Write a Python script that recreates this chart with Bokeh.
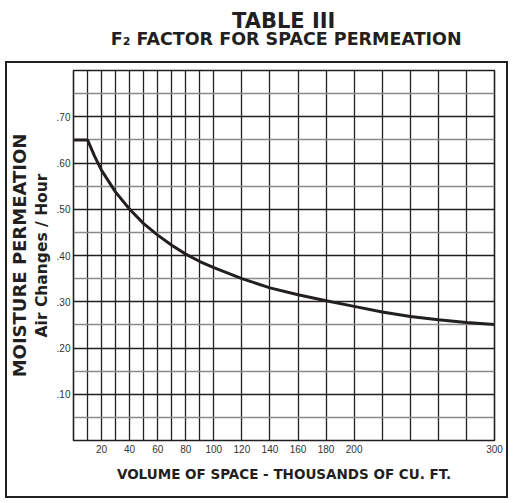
from bokeh.plotting import figure
from bokeh.models import Range1d, FixedTicker, Title
from bokeh.layouts import column
from bokeh.core.properties import value
from bokeh.embed import file_html
from bokeh.resources import INLINE

# ---- data ----
volume = [0, 10, 15, 20, 30, 40, 50, 60, 70, 80, 90, 100,
          120, 140, 160, 180, 200, 220, 240, 260, 280, 300]
factor = [0.650, 0.650, 0.615, 0.584, 0.537, 0.500, 0.469, 0.444, 0.422, 0.403, 0.387, 0.374,
          0.350, 0.330, 0.315, 0.302, 0.290, 0.278, 0.268, 0.261, 0.255, 0.251]

x_tick_values = [20, 40, 60, 80, 100, 120, 140, 160, 180, 200, 300]
x_tick_labels = ["20", "40", "60", "80", "100", "120", "140", "160", "180", "200", "300"]
x_grid_values = [10, 20, 30, 40, 50, 60, 70, 80, 90, 100,
                 120, 140, 160, 180, 200, 220, 240, 260, 280]

y_tick_values = [0.1, 0.2, 0.3, 0.4, 0.5, 0.6, 0.7]
y_tick_labels = [".10", ".20", ".30", ".40", ".50", ".60", ".70"]
y_minor_values = [0.05, 0.15, 0.25, 0.35, 0.45, 0.55, 0.65, 0.75]

title_main = "TABLE III"
title_sub = "F\u2082 FACTOR FOR SPACE PERMEATION"
y_title = "MOISTURE PERMEATION"
y_subtitle = "Air Changes / Hour"
x_title = "VOLUME OF SPACE - THOUSANDS OF CU. FT."

INK = "#231f20"
BOLD_FONT = "DejaVu Sans"

# ---- title strip (pixel coordinates, y downwards) ----
tfig = figure(width=514, height=61, x_range=Range1d(0, 514), y_range=Range1d(61, 0),
              x_axis_type=None, y_axis_type=None, min_border=0, title=None,
              output_backend="svg", toolbar_location=None)
tfig.align = "start"
tfig.outline_line_color = None
tfig.background_fill_color = "white"
tfig.border_fill_color = "white"
tfig.text(x=[256], y=[20], text=[title_main], text_align="center",
          text_baseline="alphabetic", text_font=value(BOLD_FONT),
          text_font_size=value("21px"), text_font_style="bold", text_color=INK)
tfig.text(x=[259], y=[38], text=[title_sub], text_align="center",
          text_baseline="alphabetic", text_font=value(BOLD_FONT),
          text_font_size=value("17.5px"), text_font_style="bold", text_color=INK)

# ---- main chart ----
W, H = 503, 437
p = figure(width=W, height=H, title=None,
           x_range=Range1d(0, 300), y_range=Range1d(0, 0.8),
           output_backend="svg", toolbar_location=None,
           min_border_left=68, min_border_right=14,
           min_border_top=9, min_border_bottom=58)
p.align = "start"
p.margin = (0, 0, 0, 5)
# outer box drawn as four thin background bands behind the transparent canvas border
p.styles = {
    "background-color": "white",
    "background-image": ", ".join(["linear-gradient(#231f20, #231f20)"] * 4),
    "background-repeat": "no-repeat",
    "background-position": f"0px 0px, 0px {H - 2}px, 0px 0px, {W - 2}px 0px",
    "background-size": f"{W}px 2px, {W}px 2px, 2px {H}px, 2px {H}px",
}
p.background_fill_color = "white"
p.border_fill_color = None
p.outline_line_color = INK
p.outline_line_width = 1.6

# x axis
xa = p.xaxis[0]
xa.ticker = FixedTicker(ticks=x_tick_values)
xa.major_label_overrides = {v: s for v, s in zip(x_tick_values, x_tick_labels)}
xa.major_tick_line_color = None
xa.major_tick_out = 0
xa.major_tick_in = 0
xa.minor_tick_line_color = None
xa.minor_tick_out = 0
xa.axis_line_color = None
xa.major_label_standoff = 4
xa.major_label_text_font = "Liberation Sans"
xa.major_label_text_font_size = "10px"
xa.major_label_text_color = "#333333"
xa.axis_label = x_title
xa.axis_label_text_font = BOLD_FONT
xa.axis_label_text_font_size = "13.5px"
xa.axis_label_text_font_style = "bold"
xa.axis_label_text_color = INK
xa.axis_label_standoff = 10

# y axis
ya = p.yaxis[0]
ya.ticker = FixedTicker(ticks=y_tick_values)
ya.major_label_overrides = {v: s for v, s in zip(y_tick_values, y_tick_labels)}
ya.major_tick_line_color = None
ya.major_tick_out = 0
ya.major_tick_in = 0
ya.minor_tick_line_color = None
ya.minor_tick_out = 0
ya.axis_line_color = None
ya.major_label_standoff = 3
ya.major_label_text_font = "Liberation Sans"
ya.major_label_text_font_size = "10px"
ya.major_label_text_color = "#333333"
ya.axis_label = y_subtitle
ya.axis_label_text_font = BOLD_FONT
ya.axis_label_text_font_size = "15.5px"
ya.axis_label_text_font_style = "bold"
ya.axis_label_text_color = INK
ya.axis_label_standoff = 3

p.add_layout(Title(text=y_title, align="center", text_font=BOLD_FONT,
                   text_font_size="18px", text_font_style="bold",
                   text_color=INK, standoff=0), "left")

# grids
p.xgrid.ticker = FixedTicker(ticks=x_grid_values)
p.xgrid.grid_line_color = INK
p.xgrid.grid_line_width = 1.3
p.ygrid.ticker = FixedTicker(ticks=y_tick_values, minor_ticks=y_minor_values)
p.ygrid.grid_line_color = INK
p.ygrid.grid_line_width = 1.3
p.ygrid.minor_grid_line_color = "#8a8a8a"
p.ygrid.minor_grid_line_width = 1.3

# curve
p.line(volume, factor, line_color=INK, line_width=3)

layout = column(tfig, p, spacing=0)
open("out.html", "w").write(file_html(layout, INLINE))
